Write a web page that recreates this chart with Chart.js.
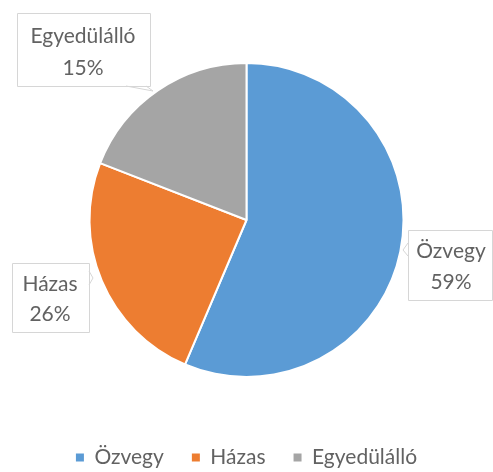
<!DOCTYPE html>
<html>
<head>
<meta charset="utf-8">
<script src="https://cdn.jsdelivr.net/npm/chart.js@4/dist/chart.umd.min.js"></script>
<style>
  html, body { margin: 0; padding: 0; background: #fff; }
  #wrap { width: 493px; height: 472px; }
</style>
</head>
<body>
<div id="wrap"><canvas id="pie"></canvas></div>
<script>
const categories = ['Özvegy', 'Házas', 'Egyedülálló'];
const shares = [56.4, 24.5, 19.1];
const pctLabels = ['59%', '26%', '15%'];

const sliceColors = ['#5B9BD5', '#ED7D31', '#A5A5A5'];
const textColor = '#626262';
const fontFamily = 'Lato, "Open Sans", sans-serif';

// callout boxes: box rect, text centre, pointer polygon
const callouts = [
    { box: [408, 230, 84, 70], cx: 451, lines: [251, 282], tip: [[408, 243], [403, 250], [408, 256]] },
    { box: [12, 263, 77, 69], cx: 50, lines: [284, 314], tip: [[89, 271], [93, 278], [89, 285]] },
    { box: [17, 13, 133, 73], cx: 83, lines: [36, 68], tip: [[126, 86], [153, 91], [146, 86]] }
];

const calloutPlugin = {
    id: 'callouts',
    afterDraw(chart) {
        const ctx = chart.ctx;
        ctx.save();
        callouts.forEach((c, i) => {
            const [x, y, w, h] = c.box;
            ctx.beginPath();
            ctx.rect(x + 0.5, y + 0.5, w, h);
            ctx.fillStyle = '#fff';
            ctx.fill();
            ctx.strokeStyle = '#D6D6D6';
            ctx.lineWidth = 1;
            ctx.stroke();
            // little wedge pointing at the slice
            ctx.beginPath();
            ctx.moveTo(c.tip[0][0], c.tip[0][1]);
            ctx.lineTo(c.tip[1][0], c.tip[1][1]);
            ctx.lineTo(c.tip[2][0], c.tip[2][1]);
            ctx.stroke();

            ctx.fillStyle = textColor;
            ctx.font = '21px ' + fontFamily;
            ctx.textAlign = 'center';
            ctx.textBaseline = 'middle';
            ctx.fillText(categories[i], c.cx, c.lines[0]);
            ctx.fillText(pctLabels[i], c.cx, c.lines[1]);
        });
        ctx.restore();
    }
};

new Chart(document.getElementById('pie'), {
    type: 'pie',
    data: {
        labels: categories,
        datasets: [{
            data: shares,
            backgroundColor: sliceColors,
            borderColor: '#fff',
            borderWidth: 2,
            radius: 157
        }]
    },
    options: {
        responsive: true,
        maintainAspectRatio: false,
        animation: false,
        layout: { padding: { top: 21, bottom: -6, left: 0, right: 0 } },
        plugins: {
            tooltip: { enabled: false },
            legend: {
                position: 'bottom',
                labels: {
                    font: { family: fontFamily, size: 21 },
                    color: textColor,
                    boxWidth: 8,
                    boxHeight: 8,
                    padding: 28,
                    generateLabels(chart) {
                        const items = Chart.overrides.pie.plugins.legend.labels.generateLabels(chart);
                        return items.map(it => ({ ...it, lineWidth: 0, strokeStyle: it.fillStyle }));
                    }
                }
            }
        }
    },
    plugins: [calloutPlugin]
});
</script>
</body>
</html>
